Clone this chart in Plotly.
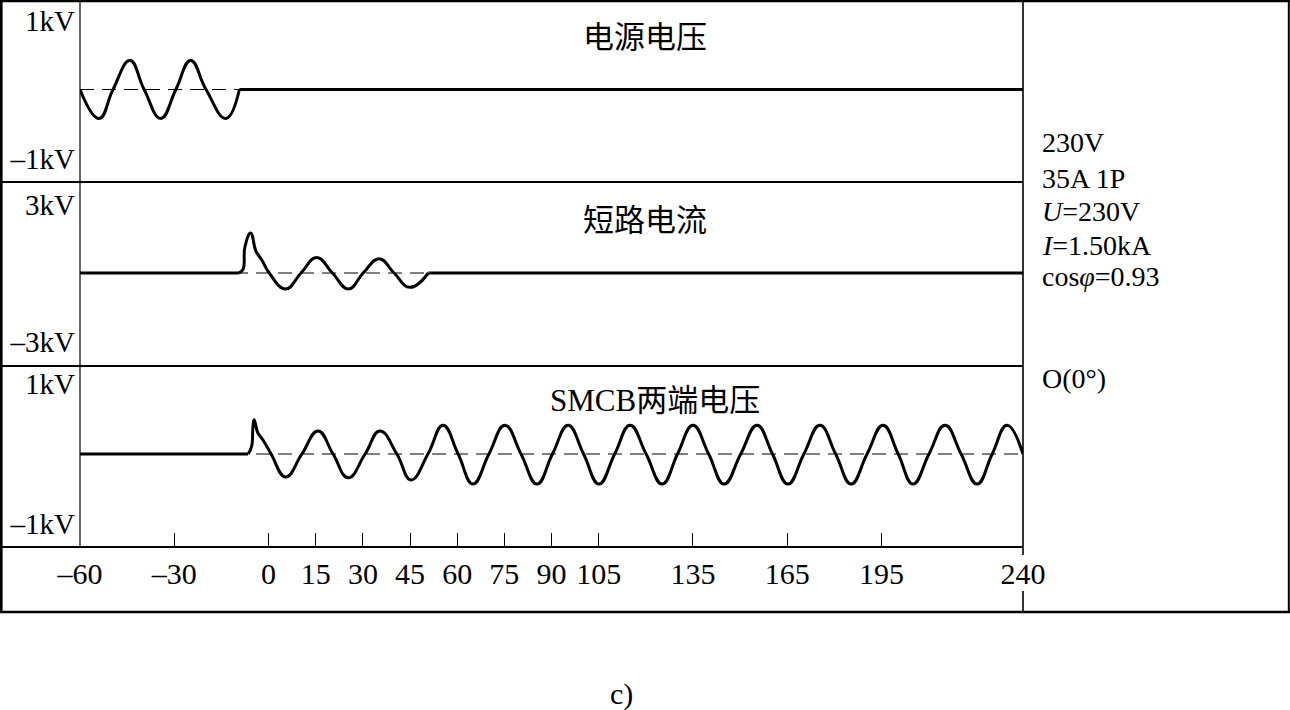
import plotly.graph_objects as go

# ---------------- data ----------------
# time axis in ms
x_tick_vals = [-60, -30, 0, 15, 30, 45, 60, 75, 90, 105, 135, 165, 195, 240]
x_tick_text = ["–60", "–30", "0", "15", "30", "45", "60", "75", "90", "105",
               "135", "165", "195", "240"]
t_range = [-60, 240]

panel_titles = ["电源电压", "短路电流", "SMCB两端电压"]
y_tick_vals = [[-1, 1], [-3, 3], [-1, 1]]
y_tick_text = [["–1kV", "1kV"], ["–3kV", "3kV"], ["–1kV", "1kV"]]
y_ranges = [[-1.341, 1.297], [-4.079, 3.991], [-1.329, 1.257]]

# panel 1: supply voltage (kV)
src_wave_t = [-60, -53.9, -49.5, -44.1, -39.6, -34.3, -29.5, -24.8, -19.9, -13.6, -9.3]
src_wave_v = [0, -0.42, 0, 0.42, 0, -0.42, 0, 0.42, 0, -0.42, 0]
src_flat_t = [-9.3, 240]
src_flat_v = [0, 0]

# panel 2: short-circuit current
sc_flat1_t = [-60, -9.6]
sc_flat1_v = [0, 0]
sc_wave_t = [-9.6, -8.2, -7.5, -5.7, -4.0, -2.2, 0.2, 5.4, 10.3, 15.3, 20.3,
             25.4, 30.1, 35.2, 39.9, 45.0, 50.8]
sc_wave_v = [0, 0.14, 1.17, 1.75, 0.95, 0.58, 0, -0.70, 0, 0.68, 0,
             -0.70, 0, 0.63, 0, -0.63, 0]
sc_flat2_t = [50.8, 240]
sc_flat2_v = [0, 0]

# panel 3: voltage across the SMCB
mcb_flat_t = [-60, -6.5]
mcb_flat_v = [0, 0]
mcb_wave_t = [-6.5, -5.4, -5.0, -4.6, -3.4, -1.8, 0.8, 5.4, 10.6, 15.7, 20.5,
              25.3, 30.7, 35.4, 40.8, 45.3, 50.7, 55.5, 60.3, 65.0, 70.1,
              75.2, 80.3, 85.4, 90.3, 95.3, 100.2, 105.1, 110.1, 115.0, 120.1,
              125.2, 130.1, 135.0, 140.0, 144.9, 150.2, 155.4, 160.3, 165.2,
              170.3, 175.4, 180.4, 185.3, 190.4, 195.5, 200.3, 205.0, 210.1,
              215.2, 220.3, 225.4, 230.2, 234.9, 240.0]
mcb_wave_v = [0, 0.11, 0.37, 0.49, 0.30, 0.20, 0, -0.33, 0, 0.33, 0,
              -0.34, 0, 0.33, 0, -0.37, 0, 0.41, 0, -0.43, 0,
              0.41, 0, -0.43, 0, 0.41, 0, -0.43, 0, 0.41, 0,
              -0.43, 0, 0.41, 0, -0.43, 0, 0.41, 0, -0.43,
              0, 0.41, 0, -0.43, 0, 0.41, 0, -0.43, 0,
              0.41, 0, -0.43, 0, 0.41, 0]

side_lines = ["230V", "35A 1P", "<i>U</i>=230V", "<i>I</i>=1.50kA",
              "cos<i>φ</i>=0.93", "O(0°)"]
caption = "c)"

# ---------------- figure ----------------
W, H = 1290, 710
FONT = "'Liberation Serif', 'Noto Sans CJK SC', serif"
CJK = "'Liberation Serif', 'Noto Sans CJK SC', sans-serif"


def px(x):
    return x / W


def py(y):
    return 1 - y / H


panel_px = [(0, 182), (182, 366), (366, 547)]
x_dom = [px(80), px(1023)]

fig = go.Figure()

wave_sets = [
    [(src_wave_t, src_wave_v, "spline"), (src_flat_t, src_flat_v, "linear")],
    [(sc_flat1_t, sc_flat1_v, "linear"), (sc_wave_t, sc_wave_v, "spline"),
     (sc_flat2_t, sc_flat2_v, "linear")],
    [(mcb_flat_t, mcb_flat_v, "linear"), (mcb_wave_t, mcb_wave_v, "spline")],
]

for i in range(3):
    xa = "x" if i == 0 else f"x{i+1}"
    ya = "y" if i == 0 else f"y{i+1}"
    # dashed zero reference
    fig.add_trace(go.Scatter(x=t_range, y=[0, 0], mode="lines",
                             line=dict(color="black", width=1.2, dash="14px,8px"),
                             xaxis=xa, yaxis=ya, showlegend=False, hoverinfo="skip"))
    for tt, vv, shp in wave_sets[i]:
        fig.add_trace(go.Scatter(x=tt, y=vv, mode="lines",
                                 line=dict(color="black", width=3, shape=shp,
                                           smoothing=1.3),
                                 xaxis=xa, yaxis=ya, showlegend=False,
                                 hoverinfo="skip", cliponaxis=False))

layout = dict(
    width=W, height=H, autosize=False, margin=dict(l=0, r=0, t=0, b=0, pad=0),
    paper_bgcolor="white", plot_bgcolor="white",
    font=dict(family=FONT, color="black"),
    showlegend=False,
)

for i in range(3):
    xk = "xaxis" if i == 0 else f"xaxis{i+1}"
    yk = "yaxis" if i == 0 else f"yaxis{i+1}"
    ya = "y" if i == 0 else f"y{i+1}"
    xa = "x" if i == 0 else f"x{i+1}"
    top, bot = panel_px[i]
    xax = dict(domain=x_dom, range=t_range, anchor=ya, showgrid=False,
               zeroline=False, showline=False, fixedrange=True, automargin=False)
    if i == 2:
        xax.update(tickmode="array", tickvals=x_tick_vals, ticktext=x_tick_text,
                   ticks="inside", ticklen=14, tickwidth=1.2, tickcolor="black",
                   tickfont=dict(size=30, family=FONT), ticklabelstandoff=6)
    else:
        xax.update(showticklabels=False, ticks="")
    layout[xk] = xax
    layout[yk] = dict(domain=[py(bot), py(top)], range=y_ranges[i], anchor=xa,
                      showgrid=False, zeroline=False, showline=False,
                      tickmode="array", tickvals=y_tick_vals[i],
                      ticktext=y_tick_text[i], ticks="",
                      tickfont=dict(size=29, family=FONT),
                      ticklabelstandoff=4, fixedrange=True, automargin=False)

fig.update_layout(**layout)

# frame lines
shapes = []


def hline(y, x0, x1, w):
    shapes.append(dict(type="line", xref="paper", yref="paper",
                       x0=px(x0), x1=px(x1), y0=py(y), y1=py(y),
                       line=dict(color="black", width=w)))


def vline(x, y0, y1, w):
    shapes.append(dict(type="line", xref="paper", yref="paper",
                       x0=px(x), x1=px(x), y0=py(y0), y1=py(y1),
                       line=dict(color="black", width=w)))


hline(1, 0, 1290, 2.5)
hline(612, 0, 1290, 2.5)
vline(1.2, 0, 613, 2.8)
vline(1288.8, 0, 613, 2)
for yy in (182, 366, 547):
    hline(yy, 0, 1023, 2)
vline(80, 0, 547, 1.2)
vline(1023, 0, 555, 1.6)
vline(1023, 591, 613, 1.6)
fig.update_layout(shapes=shapes)

ann = []
title_pos = [(645, 37), (645, 220), (655, 400)]
for ttl, (xx, yy) in zip(panel_titles, title_pos):
    ann.append(dict(text=ttl, x=px(xx), y=py(yy), xref="paper", yref="paper",
                    showarrow=False, xanchor="center", yanchor="middle",
                    font=dict(size=31, family=CJK, color="black")))

side_y = [143, 178, 211, 245, 277, 379]
for txt, yy in zip(side_lines, side_y):
    ann.append(dict(text=txt, x=px(1040), y=py(yy), xref="paper", yref="paper",
                    showarrow=False, xanchor="left", yanchor="middle",
                    font=dict(size=28, family=FONT, color="black")))

ann.append(dict(text=caption, x=px(621), y=py(694), xref="paper", yref="paper",
                showarrow=False, xanchor="center", yanchor="middle",
                font=dict(size=30, family=FONT, color="black")))
fig.update_layout(annotations=ann)

fig.write_html(
    "out.html",
    config={"responsive": False, "displayModeBar": False},
    post_script="document.body.style.margin='0';document.body.style.overflow='hidden';",
)
